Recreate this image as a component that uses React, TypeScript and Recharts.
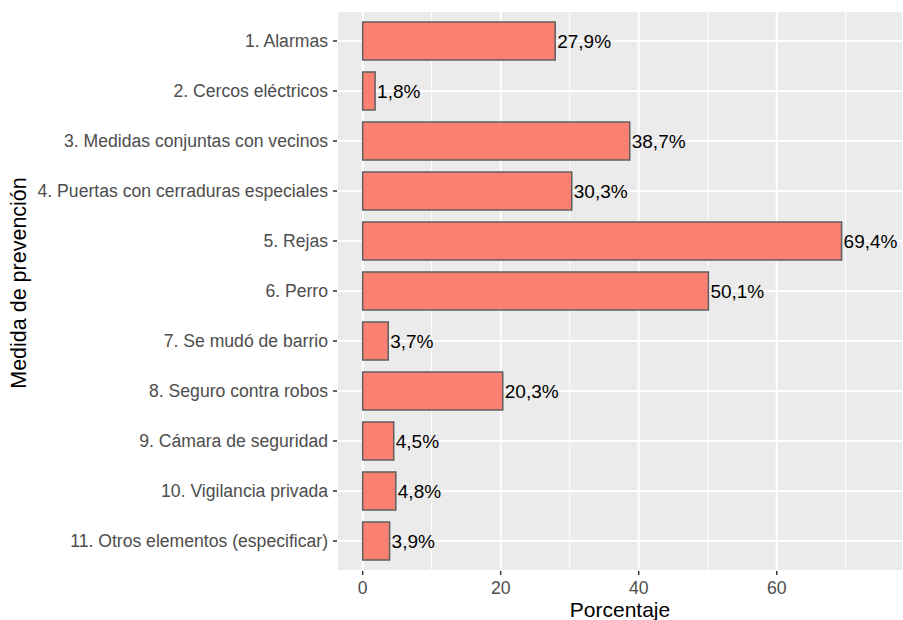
import {
  BarChart,
  Bar,
  XAxis,
  YAxis,
  CartesianGrid,
  LabelList,
  Label,
} from 'recharts';

const medidas = [
  '1. Alarmas',
  '2. Cercos eléctricos',
  '3. Medidas conjuntas con vecinos',
  '4. Puertas con cerraduras especiales',
  '5. Rejas',
  '6. Perro',
  '7. Se mudó de barrio',
  '8. Seguro contra robos',
  '9. Cámara de seguridad',
  '10. Vigilancia privada',
  '11. Otros elementos (especificar)',
];

const porcentajes = [27.9, 1.8, 38.7, 30.3, 69.4, 50.1, 3.7, 20.3, 4.5, 4.8, 3.9];

const majorTicks = [0, 20, 40, 60];
const minorTicks = [10, 30, 50, 70];

const data = medidas.map((name, i) => ({ name, value: porcentajes[i] }));

const font = '"Liberation Sans", Arial, Helvetica, sans-serif';
const xDomain: [number, number] = [-3.72, 78.3];

const fmt = (v: any) => `${Number(v).toFixed(1).replace('.', ',')}%`;

export default function App() {
  return (
    <div style={{ position: 'absolute', left: 0, top: 0, fontFamily: font }}>
      <BarChart
        width={903}
        height={620}
        data={data}
        layout="vertical"
        margin={{ top: 11, right: 0, bottom: 0, left: 0 }}
        barSize={38}
      >
        <CartesianGrid
          fill="#EBEBEB"
          fillOpacity={1}
          stroke="#FFFFFF"
          strokeWidth={2}
        />
        {/* minor grid lines via a hidden axis */}
        <CartesianGrid
          xAxisId="minor"
          horizontal={false}
          stroke="#FFFFFF"
          strokeWidth={1}
        />
        <XAxis
          xAxisId="minor"
          type="number"
          domain={xDomain}
          ticks={minorTicks}
          allowDataOverflow
          hide
        />
        <XAxis
          type="number"
          domain={xDomain}
          ticks={majorTicks}
          allowDataOverflow
          height={49}
          axisLine={false}
          tickSize={4}
          tickMargin={7}
          tickLine={{ stroke: '#333333', strokeWidth: 1.5 }}
          tick={{ fill: '#4D4D4D', fontSize: 17.6, fontFamily: font }}
        >
          <Label
            value="Porcentaje"
            position="insideBottom"
            offset={3}
            fill="#000000"
            fontSize={21}
            fontFamily={font}
          />
        </XAxis>
        <YAxis
          type="category"
          dataKey="name"
          width={337}
          padding={{ top: 5, bottom: 5 }}
          axisLine={false}
          tickSize={4}
          tickMargin={5}
          tickLine={{ stroke: '#333333', strokeWidth: 1.5 }}
          tick={{ fill: '#4D4D4D', fontSize: 17.6, fontFamily: font }}
          interval={0}
        >
          <Label
            content={() => (
              <text
                x={26}
                y={283}
                transform="rotate(-90 26 283)"
                textAnchor="middle"
                fill="#000000"
                fontSize={21.5}
                fontFamily={font}
              >
                Medida de prevención
              </text>
            )}
          />
        </YAxis>
        <Bar
          dataKey="value"
          fill="#FA8072"
          stroke="#5F5F5F"
          strokeWidth={1.5}
          isAnimationActive={false}
        >
          <LabelList
            dataKey="value"
            position="right"
            offset={2}
            formatter={fmt}
            fill="#000000"
            fontSize={19}
            fontFamily={font}
          />
        </Bar>
      </BarChart>
    </div>
  );
}
